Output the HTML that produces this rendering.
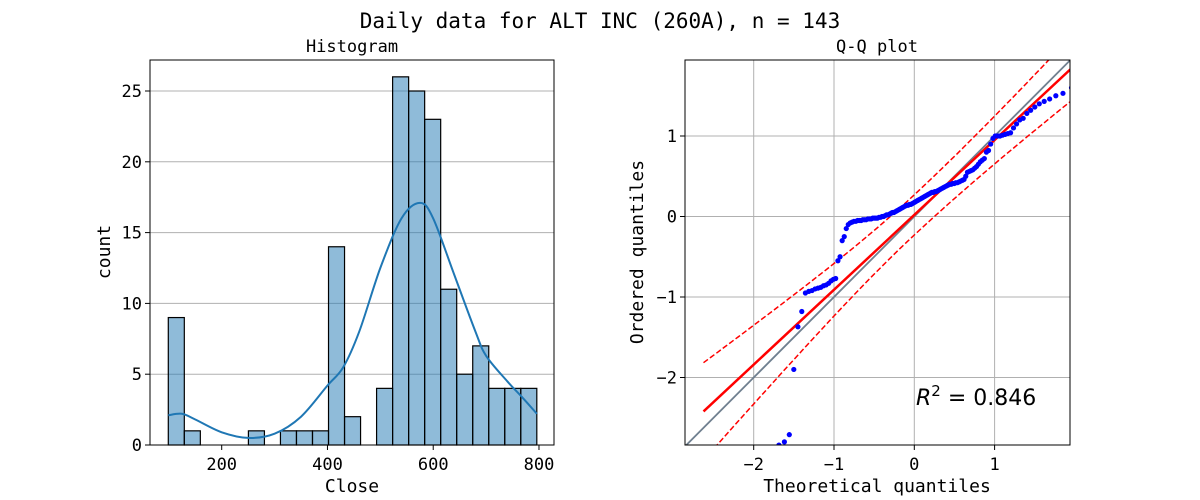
<!DOCTYPE html>
<html><head><meta charset="utf-8"><style>
html,body{margin:0;background:#fff;overflow:hidden;width:1200px;height:500px}
svg{display:block;font-family:"DejaVu Sans Mono","Liberation Mono",monospace}
</style></head><body>
<svg id="c" width="1200" height="500" xmlns="http://www.w3.org/2000/svg">
<text x="600" y="28" font-size="21" text-anchor="middle">Daily data for ALT INC (260A), n = 143</text>
<g id="L"></g>
<g id="R"></g>
</svg>
<script>
const binStart = 99, binWidth = 30.3;
const binCounts = [9,1,0,0,0,1,0,1,1,1,14,2,0,4,26,25,23,11,5,7,4,4,4];
const histXTicks = [200,400,600,800];
const histYTicks = [0,5,10,15,20,25];
const kdeX = [99,125,150,200,250,300,350,400,430,460,500,540,575,600,640,680,700,740,770,796];
const kdeY = [2.1,2.2,1.8,0.9,0.5,0.8,2.0,4.2,5.5,8.0,12.5,16.0,17.1,16.0,12.0,8.0,6.3,4.5,3.3,2.2];
const qqOrdered = [-3.0,-2.97,-2.94,-2.91,-2.89,-2.87,-2.84,-2.8,-2.71,
-1.9,-1.37,-1.18,
-0.95,-0.93,-0.92,-0.9,-0.89,-0.88,-0.86,-0.85,-0.83,-0.8,-0.78,-0.77,
-0.55,-0.5,-0.3,-0.25,-0.15,-0.1,-0.08,
-0.07,-0.06,-0.06,-0.05,-0.05,-0.05,-0.04,-0.04,-0.04,-0.03,-0.03,-0.03,-0.02,-0.02,-0.02,-0.02,-0.01,-0.01,0,0,0.01,0.02,0.02,0.03,
0.04,0.05,0.05,0.06,0.07,0.08,0.09,0.1,0.11,0.12,0.13,0.14,0.14,0.15,0.15,0.16,0.17,0.18,0.19,0.2,0.21,0.22,0.23,0.24,0.25,0.26,0.27,0.28,0.29,0.3,0.3,0.31,0.31,0.32,0.33,0.34,0.35,0.36,0.37,0.38,0.39,0.4,0.4,0.41,
0.41,0.42,0.42,0.43,0.44,0.45,0.46,0.5,0.55,0.56,
0.57,0.58,0.6,0.62,0.65,0.68,0.7,0.72,0.8,0.82,
0.9,0.97,1.0,1.0,1.0,1.01,1.02,1.03,1.04,1.1,1.15,1.2,1.22,
1.28,1.32,1.36,1.4,1.43,1.46,1.5,1.53,1.6,1.65,1.7,1.8];
const qqTicks = [-2,-1,0,1];
const fitSlope = 0.93, fitIntercept = 0.02;
const rSquared = "0.846";

const NS="http://www.w3.org/2000/svg";
function mk(p,t,a){const e=document.createElementNS(NS,t);for(const k in a)e.setAttribute(k,a[k]);p.appendChild(e);return e;}
const L=document.getElementById('L'), R=document.getElementById('R');
const lx0=150,lx1=554,ly0=445,ly1=60;
const hx=v=>221.7+(v-200)*0.5288, hy=v=>445-v*14.16;
mk(L,'text',{x:352,y:52,'font-size':17,'text-anchor':'middle'}).textContent='Histogram';
histYTicks.forEach(t=>{const y=hy(t);
 const g=mk(L,'line',{x1:lx0,x2:lx1,y1:y,y2:y,stroke:'#b0b0b0','stroke-width':1});
 
 mk(L,'line',{x1:lx0-5,x2:lx0,y1:y,y2:y,stroke:'#000'});
 const tx=mk(L,'text',{x:lx0-8,y:y+6,'font-size':17,'text-anchor':'end'});tx.textContent=t;
 });
binCounts.forEach((c,i)=>{if(!c)return;const a=hx(binStart+i*binWidth),b=hx(binStart+(i+1)*binWidth);
 const r=mk(L,'rect',{x:a,y:hy(c),width:b-a,height:hy(0)-hy(c),fill:'rgba(31,119,180,0.5)',stroke:'#000','stroke-width':1.2});
 });
function smooth(pts){let s='M'+pts[0][0].toFixed(1)+','+pts[0][1].toFixed(1);
 for(let i=0;i<pts.length-1;i++){const p0=pts[Math.max(0,i-1)],p1=pts[i],p2=pts[i+1],p3=pts[Math.min(pts.length-1,i+2)];
  const c1=[p1[0]+(p2[0]-p0[0])/6,p1[1]+(p2[1]-p0[1])/6],c2=[p2[0]-(p3[0]-p1[0])/6,p2[1]-(p3[1]-p1[1])/6];
  s+='C'+c1[0].toFixed(1)+','+c1[1].toFixed(1)+' '+c2[0].toFixed(1)+','+c2[1].toFixed(1)+' '+p2[0].toFixed(1)+','+p2[1].toFixed(1);}
 return s;}
const kd=mk(L,'path',{d:smooth(kdeX.map((x,i)=>[hx(x),hy(kdeY[i])])),fill:'none',stroke:'#1f77b4','stroke-width':2});

histXTicks.forEach(t=>{const x=hx(t);mk(L,'line',{x1:x,x2:x,y1:ly0,y2:ly0+5,stroke:'#000'});
 const tx=mk(L,'text',{x:x,y:470,'font-size':17,'text-anchor':'middle'});tx.textContent=t;
 });
mk(L,'rect',{x:lx0,y:ly1,width:lx1-lx0,height:ly0-ly1,fill:'none',stroke:'#000'});
mk(L,'text',{x:352,y:492,'font-size':18,'text-anchor':'middle'}).textContent='Close';
mk(L,'text',{x:110,y:252,'font-size':18,'text-anchor':'middle',transform:'rotate(-90 110 252)'}).textContent='count';

const rx0=685,rx1=1070,ry0=445,ry1=60;
const qx=v=>914.3+v*80.3, qy=v=>216.5-v*80.5;
mk(R,'text',{x:877,y:52,'font-size':17,'text-anchor':'middle'}).textContent='Q-Q plot';
const cp=mk(R,'clipPath',{id:'qc'});mk(cp,'rect',{x:rx0,y:ry1,width:rx1-rx0,height:ry0-ry1});
qqTicks.forEach(t=>{
 mk(R,'line',{x1:qx(t),x2:qx(t),y1:ry1,y2:ry0,stroke:'#b0b0b0'});
 mk(R,'line',{x1:rx0,x2:rx1,y1:qy(t),y2:qy(t),stroke:'#b0b0b0'});
 mk(R,'line',{x1:qx(t),x2:qx(t),y1:ry0,y2:ry0+5,stroke:'#000'});
 mk(R,'line',{x1:rx0-5,x2:rx0,y1:qy(t),y2:qy(t),stroke:'#000'});
 const lab=(t<0?'\u2212':'')+Math.abs(t);
 const a=mk(R,'text',{x:qx(t),y:470,'font-size':17,'text-anchor':'middle'});a.textContent=lab;
 
 const b=mk(R,'text',{x:rx0-8,y:qy(t)+6,'font-size':17,'text-anchor':'end'});b.textContent=lab;
 });
const G=mk(R,'g',{'clip-path':'url(#qc)'});
mk(G,'line',{x1:qx(-4),y1:qy(-4),x2:qx(3),y2:qy(3),stroke:'#708090','stroke-width':1.8});
function ninv(p){const a=[-39.6968302866538,220.946098424521,-275.928510446969,138.357751867269,-30.6647980661472,2.50662827745924],b=[-54.4760987982241,161.585836858041,-155.698979859887,66.8013118877197,-13.2806815528857],c=[-0.00778489400243029,-0.322396458041136,-2.40075827716184,-2.54973253934373,4.37466414146497,2.93816398269878],d=[0.00778469570904146,0.32246712907004,2.445134137143,3.75440866190742];
 if(p<0.02425){const q=Math.sqrt(-2*Math.log(p));return (((((c[0]*q+c[1])*q+c[2])*q+c[3])*q+c[4])*q+c[5])/((((d[0]*q+d[1])*q+d[2])*q+d[3])*q+1);}
 if(p>1-0.02425){return -ninv(1-p);}
 const q=p-0.5,r=q*q;return (((((a[0]*r+a[1])*r+a[2])*r+a[3])*r+a[4])*r+a[5])*q/(((((b[0]*r+b[1])*r+b[2])*r+b[3])*r+b[4])*r+1);}
const n=qqOrdered.length;
const theo=qqOrdered.map((v,i)=>ninv((i+1-0.375)/(n+0.25)));
const x0=theo[0],x1=theo[n-1];
let up='',lo='';
for(let k=0;k<=60;k++){const x=x0+(x1-x0)*k/60,f=fitIntercept+fitSlope*x,s=x<0?0.21:0.16,w=Math.sqrt(0.25*0.25+s*s*x*x);
 up+=(k?'L':'M')+qx(x).toFixed(1)+','+qy(f+w).toFixed(1);lo+=(k?'L':'M')+qx(x).toFixed(1)+','+qy(f-w).toFixed(1);}
const bu=mk(G,'path',{d:up,fill:'none',stroke:'red','stroke-width':1.5,'stroke-dasharray':'5.5,2.5'});

const bl=mk(G,'path',{d:lo,fill:'none',stroke:'red','stroke-width':1.5,'stroke-dasharray':'5.5,2.5'});

const fl=mk(G,'line',{x1:qx(x0),y1:qy(fitIntercept+fitSlope*x0),x2:qx(x1),y2:qy(fitIntercept+fitSlope*x1),stroke:'red','stroke-width':2.5});

qqOrdered.forEach((v,i)=>{const p=mk(G,'circle',{cx:qx(theo[i]),cy:qy(v),r:2.6,fill:'#0000ff'});
 });
mk(R,'rect',{x:rx0,y:ry1,width:rx1-rx0,height:ry0-ry1,fill:'none',stroke:'#000'});
const rt=mk(R,'text',{x:916,y:405,'font-size':22,'font-family':'DejaVu Sans, sans-serif'});
rt.innerHTML='<tspan font-style="italic">R</tspan><tspan dy="-9" font-size="15">2</tspan><tspan dy="9"> = '+rSquared+'</tspan>';

mk(R,'text',{x:877,y:492,'font-size':18,'text-anchor':'middle'}).textContent='Theoretical quantiles';
mk(R,'text',{x:643,y:252,'font-size':18,'text-anchor':'middle',transform:'rotate(-90 643 252)'}).textContent='Ordered quantiles';
</script>
</body></html>
